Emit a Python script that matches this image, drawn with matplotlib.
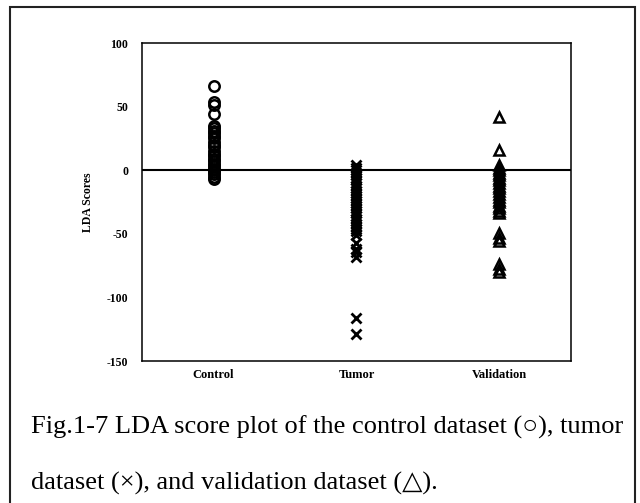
import numpy as np
import matplotlib
matplotlib.use("Agg")
import matplotlib.pyplot as plt
from matplotlib.patches import Rectangle

# LDA scores per group
categories = ["Control", "Tumor", "Validation"]
control = [66, 54, 51, 44, 35, 33, 31, 29, 27, 25, 22, 20, 18, 15, 13, 11,
           9, 7, 5, 3, 1, 0, -1, -3, -5, -7]
tumor = [4, 2, 0, -2, -4, -6, -8, -10, -12, -14, -16, -18, -20, -22, -24,
         -26, -28, -30, -32, -34, -36, -38, -40, -42, -44, -46, -48, -51,
         -57, -62, -64, -68, -116, -129]
validation = [42, 16, 4, 2, 0, -2, -4, -6, -8, -10, -12, -14, -16, -19, -21,
              -23, -25, -28, -30, -32, -34, -49, -53, -56, -74, -78, -80]
y_ticks = [100, 50, 0, -50, -100, -150]

serif = ["Liberation Serif", "DejaVu Serif"]

fig = plt.figure(figsize=(6.4, 5.03), dpi=100)
ax = fig.add_axes([0.222, 0.2823, 0.670, 0.632])

groups = [control, tumor, validation]
markers = ["o", "x", "^"]
for i, (vals, m) in enumerate(zip(groups, markers)):
    xs = np.full(len(vals), i)
    if m == "x":
        ax.plot(xs, vals, linestyle="none", marker=m, markersize=7.5,
                markeredgewidth=2, color="black", zorder=3)
    else:
        ax.plot(xs, vals, linestyle="none", marker=m, markersize=7.5,
                markerfacecolor="none", markeredgewidth=1.8,
                markeredgecolor="black", zorder=3)

ax.axhline(0, color="black", linewidth=1.5, zorder=2)

ax.set_xlim(-0.5, 2.5)
ax.set_ylim(-150, 100)
ax.set_xticks(range(len(categories)))
ax.set_xticklabels(categories, family=serif, fontweight="bold", fontsize=9)
ax.set_yticks(y_ticks)
ax.set_yticklabels([str(t) for t in y_ticks], family=serif,
                   fontweight="bold", fontsize=8.5)
ax.tick_params(axis="both", length=0)
ax.tick_params(axis="y", pad=10)
ax.tick_params(axis="x", pad=6)
ax.set_ylabel("LDA Scores", family=serif, fontweight="bold", fontsize=8.5,
              labelpad=9)
for sp in ax.spines.values():
    sp.set_linewidth(1.1)
    sp.set_color("black")

# outer frame around figure and caption
fig.patches.append(Rectangle((10 / 640, -0.05), 625 / 640, (503 - 7) / 503 + 0.05,
                             transform=fig.transFigure, fill=False,
                             edgecolor="#222222", linewidth=1.5))

fig.text(31 / 640, 1 - 427 / 503,
         "Fig.1-7 LDA score plot of the control dataset (\u25cb), tumor",
         family=serif, fontsize=19, va="center", ha="left")
fig.text(31 / 640, 1 - 483 / 503,
         "dataset (\u00d7), and validation dataset (\u25b3).",
         family=serif, fontsize=19, va="center", ha="left")

fig.savefig("out.png", dpi=100)
